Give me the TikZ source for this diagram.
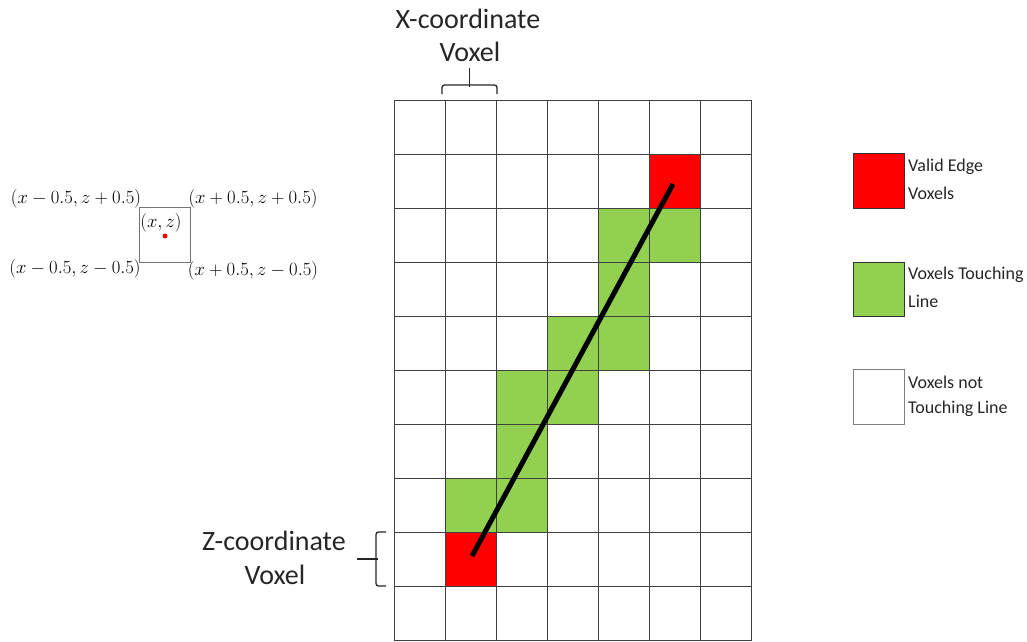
\documentclass[tikz,border=0pt]{standalone}
\usepackage{graphicx}
\usepackage{fontspec}
\setmainfont{Carlito}
\definecolor{vred}{HTML}{FF0000}
\definecolor{vgreen}{HTML}{92D050}
\definecolor{gridgray}{HTML}{404040}
\newcommand{\mlab}[1]{\scalebox{1.08}{$#1$}}
\begin{document}
\begin{tikzpicture}[x=1pt,y=-1pt,
  cell/.style={draw=gridgray, line width=1pt, minimum width=51pt, minimum height=54pt, inner sep=0pt, outer sep=0pt, anchor=north west},
  lbl/.style={font=\fontsize{28}{32}\selectfont, text=black!85, inner sep=0pt},
  leg/.style={font=\fontsize{18}{21}\selectfont, text=black!85, inner sep=0pt, anchor=west},
  mlbl/.style={font=\fontsize{17}{19}\selectfont, inner sep=0pt},
  brace/.style={line width=1.3pt, black!85, rounded corners=2.5pt}]
\useasboundingbox (0,0) rectangle (1027,641);
% grid
\foreach \i in {0,...,6} {
  \foreach \j in {0,...,9} {
    \node[cell] (c\i-\j) at ({394+51*\i},{100+54*\j}) {};
  }
}
% green cells
\foreach \i/\j in {4/2,5/2,4/3,3/4,4/4,2/5,3/5,2/6,1/7,2/7} {
  \node[cell, fill=vgreen] (g\i-\j) at ({394+51*\i},{100+54*\j}) {};
}
% red cells
\foreach \i/\j in {5/1,1/8} {
  \node[cell, fill=vred] (r\i-\j) at ({394+51*\i},{100+54*\j}) {};
}
% line
\coordinate (ls) at (472,556);
\coordinate (le) at (673,184);
\draw[line width=5pt] (ls) -- (le);
% X bracket
\node[lbl] (xlab) at (468,19) {X-coordinate};
\node[lbl] (xvox) at (470,52) {Voxel};
\coordinate (xb1) at (442,94);
\coordinate (xb2) at (497,94);
\coordinate (xbt) at (469.5,68);
\draw[brace] (xb1) -- (442,85) -- (497,85) -- (xb2);
\draw[line width=1.3pt, black!85] (469.5,86.5) -- (xbt);
% Z bracket
\node[lbl] (zlab) at (274,541) {Z-coordinate};
\node[lbl] (zvox) at (275,575) {Voxel};
\coordinate (zb1) at (386,532);
\coordinate (zb2) at (386,586);
\coordinate (zbt) at (357,559);
\draw[brace] (zb1) -- (376,532) -- (376,586) -- (zb2);
\draw[line width=1.3pt, black!85] (377.5,559) -- (zbt);
% small voxel box
\node[draw=gray!90!black, line width=1pt, minimum width=51pt, minimum height=55pt, inner sep=0pt, anchor=north west] (sbox) at (139,207) {};
\node[mlbl] (xz) at (161,223) {\mlab{(x,z)}};
\fill[vred] (165,236) circle (2.5pt);
\node[mlbl] (tl) at (76,199) {\mlab{(x-0.5,z+0.5)}};
\node[mlbl] (tr) at (253,199) {\mlab{(x+0.5,z+0.5)}};
\node[mlbl] (bl) at (75,269) {\mlab{(x-0.5,z-0.5)}};
\node[mlbl] (br) at (253,271) {\mlab{(x+0.5,z-0.5)}};
% legend
\node[draw=black!80, line width=1pt, fill=vred, minimum width=51pt, minimum height=55pt, inner sep=0pt, anchor=north west] (lr) at (853,153) {};
\node[draw=black!80, line width=1pt, fill=vgreen, minimum width=51pt, minimum height=54pt, inner sep=0pt, anchor=north west] (lg) at (853,262) {};
\node[draw=gray, line width=1pt, fill=white, minimum width=51pt, minimum height=55pt, inner sep=0pt, anchor=north west] (lw) at (853,369) {};
\node[leg] (lr1) at (908,167) {Valid Edge};
\node[leg] (lr2) at (908,193) {Voxels};
\node[leg] (lg1) at (908,275) {Voxels Touching};
\node[leg] (lg2) at (908,301) {Line};
\node[leg] (lw1) at (908,382) {Voxels not};
\node[leg] (lw2) at (908,409) {Touching Line};
\end{tikzpicture}
\end{document}
